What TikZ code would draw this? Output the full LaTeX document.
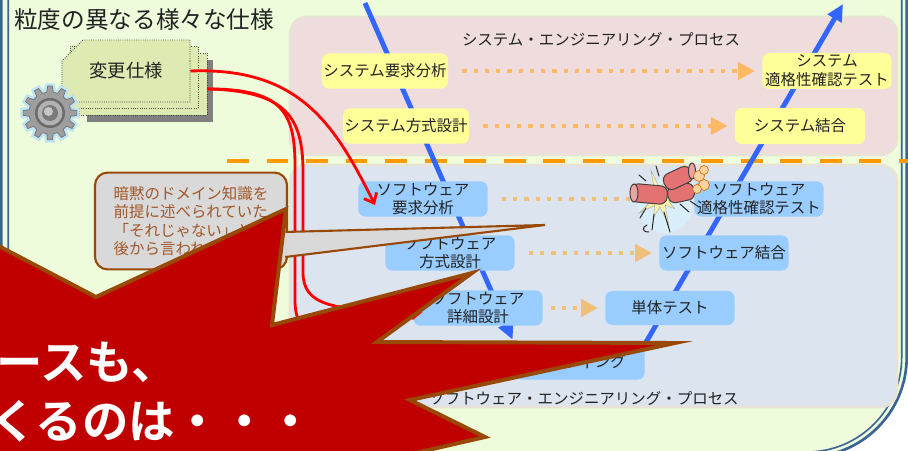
\documentclass[tikz,border=0pt]{standalone}
\usepackage{fontspec}
\setmainfont{Noto Sans CJK JP}[BoldFont={Noto Sans CJK JP Bold}]
\usetikzlibrary{arrows.meta, shapes.misc}
\pgfdeclarelayer{bg}
\pgfdeclarelayer{mid}
\pgfsetlayers{bg,mid,main}
\definecolor{bgc}{HTML}{EEFCDC}
\definecolor{framec}{HTML}{3A6496}
\definecolor{sysbg}{HTML}{EFDCDC}
\definecolor{swbg}{HTML}{DCE4EF}
\definecolor{edgec}{HTML}{E8E3D6}
\definecolor{sysc}{HTML}{FFFF99}
\definecolor{swc}{HTML}{99CCFF}
\definecolor{dotc}{HTML}{FFB866}
\definecolor{dotc2}{HTML}{F0C078}
\definecolor{cutc}{HTML}{FF9900}
\definecolor{vlinec}{HTML}{3366FF}
\definecolor{redc}{HTML}{FF0000}
\definecolor{pagec}{HTML}{DDEAB2}
\definecolor{notec}{HTML}{D9D9D9}
\definecolor{notetxt}{HTML}{A0582A}
\definecolor{brownc}{HTML}{984807}
\definecolor{starc}{HTML}{C00000}
\definecolor{txtc}{HTML}{222222}
\definecolor{glowc}{HTML}{BEE3F3}
\definecolor{flashc}{HTML}{FFF2A8}
\definecolor{sausc}{HTML}{E57272}
\definecolor{puffc}{HTML}{FFD2A0}
\tikzset{
  panel/.style={draw=edgec, line width=2pt, rounded corners=12pt},
  frame/.style={draw=framec, rounded corners=71pt},
  sysbox/.style={fill=sysc, rounded corners=5pt, align=center, inner sep=1pt, text=txtc,
                 font=\fontsize{11}{13.5}\selectfont, minimum height=0.88cm},
  swbox/.style={sysbox, fill=swc, minimum width=3.23cm, font=\fontsize{11}{13}\selectfont},
  plbl/.style={font=\fontsize{11}{13}\selectfont, text=txtc, inner sep=0pt},
  ttl/.style={font=\fontsize{16.8}{20}\selectfont, text=txtc, inner sep=0pt},
  sheet/.style={draw=black!70, densely dotted, line width=0.6pt, fill=pagec,
                minimum width=3.2cm, minimum height=1.55cm, inner sep=0pt},
  dotarr/.style={dotc, line width=3pt, dash pattern=on 3pt off 5pt,
                 -{Triangle[length=12pt,width=12pt]}, shorten <=10pt, shorten >=5pt},
  vee/.style={vlinec, line width=3.5pt, -{Triangle[length=12pt,width=11pt]}},
  cut/.style={cutc, line width=3.5pt, dash pattern=on 15.6pt off 12.5pt},
  redarr/.style={redc, line width=2pt, -{Straight Barb[length=6pt,width=10pt]}},
  hintbox/.style={fill=notec, draw=brownc, line width=1.5pt, rounded corners=9pt,
                  text=notetxt, align=left, font=\fontsize{11}{13}\selectfont,
                  minimum width=4.8cm, minimum height=2.42cm, inner sep=2pt},
  burst/.style={fill=starc, draw=brownc, line width=2.8pt, line join=miter},
  shout/.style={text=white, font=\fontsize{33}{40}\selectfont\bfseries, inner sep=0pt, anchor=west},
  cog/.style={fill=black!38, draw=black!55, line width=0.5pt, line join=round,
              preaction={draw=glowc, line width=4pt}},
  sausage/.style={fill=sausc, draw=black!75, line width=0.7pt, rounded corners=5pt, inner sep=0pt},
  endcap/.style={fill=sausc!65, draw=black!75, line width=0.7pt},
  spark/.style={black!85, line width=0.7pt, line cap=round},
}

\begin{document}
\begin{tikzpicture}[x=0.025cm, y=-0.025cm]
\useasboundingbox (0,0) rectangle (908,451);

% ---------------- frame and the two process panels ----------------
\begin{pgfonlayer}{bg}
\fill[white] (0,0) rectangle (908,451);
\draw[frame, fill=bgc, line width=1.9pt] (1.3,-150) rectangle (906.7,457);
\draw[frame, line width=1.15pt, rounded corners=67.5pt] (8.2,-150) rectangle (901.7,452);
\draw[panel, fill=sysbg] (290,17) rectangle (897,155);
\draw[panel, fill=swbg] (290,165) rectangle (897,407);
\draw[cut] (227,161) -- (908,161);
\end{pgfonlayer}

\node[ttl, anchor=west] (title) at (14,20) {粒度の異なる様々な仕様};
\node[plbl] (syslbl) at (601,40) {システム・エンジニアリング・プロセス};
\node[plbl] (swlbl) at (584,399) {ソフトウェア・エンジニアリング・プロセス};

% ---------------- the stack of specs and the gear ----------------
\fill[black!50] (87,60) rectangle (213,122);
\node[sheet] (page3) at (143,84) {};
\node[sheet] (page2) at (134,77.5) {};
\node[sheet, chamfered rectangle, chamfered rectangle corners=north west,
      chamfered rectangle xsep=9pt, chamfered rectangle ysep=9pt,
      font=\fontsize{13}{15}\selectfont, text=txtc] (spec) at (126,71) {変更仕様};

\begin{scope}[shift={(50,113)}]
  \path[cog] (-9:21) \foreach \a in {0,30,...,330} { -- ({\a-9}:21) -- ({\a-5}:27) -- ({\a+5}:27) -- ({\a+9}:21) } -- cycle;
  \fill[black!58] (0,0) circle (15);
  \fill[black!30] (0,0) circle (12.5);
  \fill[black!52] (0,0) circle (8);
  \fill[black!22] (-1.5,-1.5) circle (4.5);
\end{scope}

% ---------------- system level ----------------
\node[sysbox, minimum width=3.1cm] (sysreq) at (385,71) {システム要求分析};
\node[sysbox, minimum width=3.08cm] (sysarch) at (406,126) {システム方式設計};
\node[sysbox, minimum width=3.23cm, minimum height=0.9cm] (systest) at (827,71) {システム\\適格性確認テスト};
\node[sysbox, minimum width=3.25cm, minimum height=0.9cm] (sysint) at (800,126) {システム結合};

% ---------------- software level ----------------
\node[swbox] (swreq) at (423,199) {ソフトウェア\\要求分析};
\node[swbox] (swarch) at (450,253) {ソフトウェア\\方式設計};
\node[swbox] (swdet) at (478,308) {ソフトウェア\\詳細設計};
\node[swbox] (code) at (580,362) {コーディング};
\node[swbox] (swtest) at (759,199) {ソフトウェア\\適格性確認テスト};
\node[swbox] (swint) at (724,253) {ソフトウェア結合};
\node[swbox, minimum height=0.85cm] (unit) at (670,308) {単体テスト};

% the V and the test links behind the boxes
\coordinate (vtop) at (365,3);
\coordinate (vend) at (843,4);
\begin{pgfonlayer}{mid}
\draw[vee] (vtop) -- ([xshift=-1.8pt,yshift=3.2pt]code.north west);
\draw[vee] (code.north east) -- (vend);
\draw[dotarr] (sysreq) -- (systest);
\draw[dotarr] (sysarch) -- (sysint);
\draw[dotarr, dotc2] (swreq) -- (swtest);
\draw[dotarr, dotc2] (swarch) -- (swint);
\draw[dotarr, dotc2, shorten <=5.5pt] (swdet) -- (unit);
\end{pgfonlayer}

% ---------------- the broken parts ----------------
\fill[glowc!60] (665,206) circle (27);
\begin{scope}[shift={(660,198)}]
  \filldraw[fill=flashc, draw=black!35, line width=0.3pt] (0:26)
    \foreach \a/\r in {0/26,36/18,72/28,108/20,144/26,180/19,216/24,252/29,288/19,324/25} { -- (\a:\r) -- ({\a+18}:9) } -- cycle;
\end{scope}
\draw[spark] (646,208) -- (640,218);
\draw[spark] (654,214) -- (652,230);
\draw[spark] (664,212) -- (670,232);
\draw[spark] (680,204) -- (689,212);
\draw[spark] (659,176) -- (656,166);
\draw[spark] (646,181) -- (639,175);
\draw[spark] (690,201) -- (699,207);
\draw[spark] (647,225) .. controls (641,227) and (643,233) .. (649,232);
\node[sausage, minimum width=26pt, minimum height=13pt, rotate=-5] (partl) at (649,194) {};
\draw[endcap] (634,193) ellipse [x radius=4, y radius=9];
\node[sausage, minimum width=19pt, minimum height=12pt, rotate=12] (partb) at (681,193) {};
\node[sausage, minimum width=21pt, minimum height=12pt, rotate=25] (partt) at (678,178) {};
\draw[endcap] (692,171) ellipse [x radius=3.5, y radius=8];
\foreach \p/\r in {{(699,176)}/5.5, {(704,185)}/5.5, {(697,189)}/4.5, {(704,170)}/4.5}
  \filldraw[fill=puffc, draw=orange!80!black, line width=0.4pt] \p circle (\r);

% ---------------- the changed specs flow in ----------------
\coordinate (reqhit) at (375,205);
\draw[redarr] (spec.east) .. controls (300,67) and (335,125) .. (reqhit);
\draw[redarr] ([yshift=-3.5pt]page3.east) .. controls (280,89) and (295,110) .. (295,165)
  -- (295,300) .. controls (295,345) and (330,362) .. (code.west);
\draw[redarr] ([yshift=-3.5pt]page3.east) .. controls (287,91) and (303,118) .. (303,172)
  -- (303,272) .. controls (303,305) and (330,311) .. ([xshift=6.8pt,yshift=-2.8pt]swdet.west);

% ---------------- the callout ----------------
\node[hintbox] (hint) at (191,221) {暗黙のドメイン知識を\\前提に述べられていた\\「それじゃない」と\\後から言われる};
\coordinate (hinttip) at (545,225);
\fill[notec] ([xshift=-2pt,yshift=-7.8pt]hint.east) -- (hinttip) -- ([xshift=-2pt,yshift=-25.6pt]hint.east) -- cycle;
\draw[brownc, line width=1.5pt, line join=miter] ([xshift=-2pt,yshift=-7.8pt]hint.east) -- (hinttip) -- ([xshift=-2pt,yshift=-25.6pt]hint.east);

% ---------------- the burst ----------------
\draw[burst] (-30,231) -- (96,297) -- (286,209) -- (272,325) -- (472,273) -- (377,342)
  -- (675,343) -- (410,400) -- (485,437) -- (350,468) -- (-30,468) -- cycle;
\node[shout] (shout1) at (-4,362) {ースも、};
\node[shout] (shout2) at (-10,421) {くるのは・・・};
\end{tikzpicture}
\end{document}
